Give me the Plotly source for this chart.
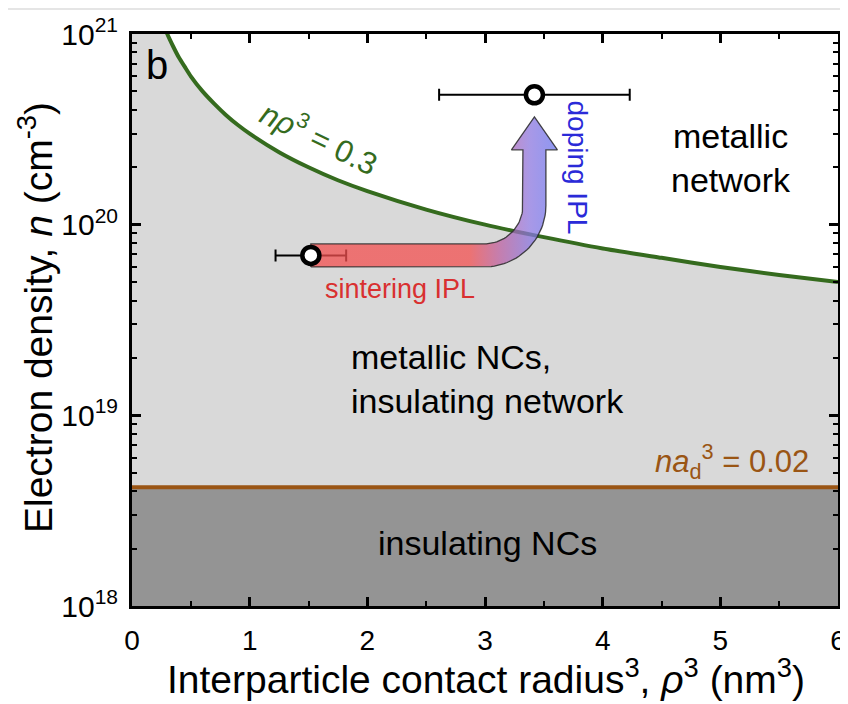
import numpy as np
import plotly.graph_objects as go

# ---------------- data ----------------
# boundary n*rho^3 = 0.3 (x: rho^3 in nm^3, n in cm^-3)
curve_x = [0.25, 0.30, 0.35, 0.40, 0.45, 0.50, 0.60, 0.70, 0.80, 0.90, 1.00, 1.25,
           1.50, 1.75, 2.00, 2.50, 3.00, 3.50, 4.00, 4.50, 5.00, 5.50, 6.00]
curve_n = [1.2e21, 1.0e21, 8.6e20, 7.5e20, 6.7e20, 6.0e20, 5.0e20, 4.3e20, 3.75e20, 3.33e20,
           3.0e20, 2.4e20, 2.0e20, 1.71e20, 1.5e20, 1.2e20, 1.0e20, 8.6e19, 7.5e19, 6.7e19,
           6.0e19, 5.45e19, 5.0e19]
# boundary n*a_d^3 = 0.02
ad_level = 4.2e18
# measured films: before (sintering IPL) and after (doping IPL)
points_x = [1.52, 3.42]
points_n = [6.9e19, 4.8e20]
points_xerr = [0.30, 0.81]

x_ticks = [0, 1, 2, 3, 4, 5, 6]
y_ticks = [1e18, 1e19, 1e20, 1e21]
y_ticktext = ["10<sup>18</sup>", "10<sup>19</sup>", "10<sup>20</sup>", "10<sup>21</sup>"]
y_minor = [float(m) * 10.0 ** e for e in (18, 19, 20) for m in range(2, 10)]

X_RANGE = [0, 6]
Y_RANGE = [18, 21]  # log10

# ---------------- layout geometry ----------------
FIG_W, FIG_H = 848, 704
OFF = 8  # page body margin of the browser
M_L, M_R, M_T, M_B = 132 - OFF, 10 + OFF, 34 - OFF, 98 + OFF
W = FIG_W - M_L - M_R
H = FIG_H - M_T - M_B
FONT = "Liberation Sans, Arial, sans-serif"

def to_px(x, n):
    return ((x - X_RANGE[0]) / (X_RANGE[1] - X_RANGE[0]) * W,
            (Y_RANGE[1] - np.log10(n)) / (Y_RANGE[1] - Y_RANGE[0]) * H)

def to_data(X, Y):
    return (float(X / W * (X_RANGE[1] - X_RANGE[0]) + X_RANGE[0]),
            float(10 ** (Y_RANGE[1] - Y / H * (Y_RANGE[1] - Y_RANGE[0]))))

GREEN = "#356b1e"
BROWN = "#9a5514"
LIGHT = "#d9d9d9"
DARK = "#949494"

fig = go.Figure()

# dark grey region (insulating NCs)
fig.add_trace(go.Scatter(
    x=[X_RANGE[0], X_RANGE[1], X_RANGE[1], X_RANGE[0]],
    y=[10.0 ** Y_RANGE[0], 10.0 ** Y_RANGE[0], ad_level, ad_level],
    fill="toself", fillcolor=DARK, mode="none", hoverinfo="skip"))

# light grey region between the two boundaries
top = 10.0 ** (Y_RANGE[1] + 0.3)
fig.add_trace(go.Scatter(
    x=[X_RANGE[0], curve_x[0]] + curve_x + [X_RANGE[1], X_RANGE[0]],
    y=[top, top] + curve_n + [ad_level, ad_level],
    fill="toself", fillcolor=LIGHT, mode="none", hoverinfo="skip"))

# boundary lines
fig.add_trace(go.Scatter(x=curve_x, y=curve_n, mode="lines",
                         line=dict(color=GREEN, width=4, shape="spline", smoothing=0.6),
                         hoverinfo="skip"))
fig.add_trace(go.Scatter(x=X_RANGE, y=[ad_level, ad_level], mode="lines",
                         line=dict(color=BROWN, width=4), hoverinfo="skip"))

# error bars (drawn beneath the arrow)
fig.add_trace(go.Scatter(
    x=points_x, y=points_n, mode="markers",
    marker=dict(size=1, color="rgba(0,0,0,0)"),
    error_x=dict(type="data", array=points_xerr, color="black", thickness=2, width=6),
    hoverinfo="skip"))

# ---------------- gradient arrow (sintering -> doping) ----------------
p1x, p1y = to_px(points_x[0], points_n[0])
p2x, p2y = to_px(points_x[1], points_n[1])
R = 50.0      # centreline bend radius (px)
hw = 11.5     # half shaft width
hh = 23.0     # half head width
base_y = p2y + 55
tip_y = p2y + 22
cx, cy = p2x - R, p1y - R
poly = []
poly.append((p1x, p1y + hw))
for a in np.linspace(np.pi / 2, 0, 30):
    poly.append((cx + (R + hw) * np.cos(a), cy + (R + hw) * np.sin(a)))
poly += [(p2x + hw, base_y), (p2x + hh, base_y), (p2x, tip_y),
         (p2x - hh, base_y), (p2x - hw, base_y)]
for a in np.linspace(0, np.pi / 2, 30):
    poly.append((cx + (R - hw) * np.cos(a), cy + (R - hw) * np.sin(a)))
poly.append((p1x, p1y - hw))
poly.append(poly[0])
ax_, ay_ = zip(*[to_data(X, Y) for X, Y in poly])
g_start = to_data(p2x - 95, 0)[0]
g_stop = to_data(p2x + hh + 2, 0)[0]
fig.add_trace(go.Scatter(
    x=list(ax_), y=list(ay_), mode="lines", fill="toself",
    line=dict(color="rgba(40,40,40,0.85)", width=1.3),
    fillgradient=dict(type="horizontal", start=g_start, stop=g_stop,
                      colorscale=[[0.0, "rgba(243,80,80,0.75)"],
                                  [0.25, "rgba(243,80,80,0.75)"],
                                  [0.5, "rgba(190,96,160,0.75)"],
                                  [0.75, "rgba(140,118,222,0.75)"],
                                  [1.0, "rgba(100,116,238,0.75)"]]),
    hoverinfo="skip"))

# data points
fig.add_trace(go.Scatter(
    x=points_x, y=points_n, mode="markers",
    marker=dict(size=17, color="white", line=dict(color="black", width=4.5)),
    hoverinfo="skip"))

# ---------------- annotations ----------------
def ann(text, x, logy, size, color="black", **kw):
    fig.add_annotation(text=text, x=x, y=logy, xref="x", yref="y", showarrow=False,
                       font=dict(family=FONT, size=size, color=color), **kw)

ann("b", 0.21, 20.84, 40)
ann("metallic<br>network", 5.09, 20.35, 34)
ann("metallic NCs,<br>insulating network", 1.84, 19.19, 34, xanchor="left", align="left")
ann("insulating NCs", 3.02, 18.33, 34)
ann("<i>n</i><i>ρ</i><sup>3</sup> = 0.3", 1.60, 20.46, 31, GREEN, textangle=26)
ann("<i>na</i><sub>d</sub><sup>3</sup> = 0.02", 5.77, 18.76, 31, BROWN, xanchor="right")
ann("sintering IPL", 2.28, 19.66, 27, "#d93030")
ann("doping IPL", 3.79, 20.30, 28, "#2a2ad8", textangle=90)

# axis titles
fig.add_annotation(text="Interparticle contact radius<sup>3</sup>, <i>ρ</i><sup>3</sup> (nm<sup>3</sup>)",
                   xref="paper", yref="paper", x=(486 - 132) / W, y=(606 - 676) / H,
                   xanchor="center", yanchor="middle", showarrow=False,
                   font=dict(family=FONT, size=39, color="black"))
fig.add_annotation(text="Electron density, <i>n</i> (cm<sup>-3</sup>)",
                   xref="paper", yref="paper", x=(35 - 132) / W, y=(606 - 318) / H,
                   xanchor="center", yanchor="middle", showarrow=False, textangle=-90,
                   font=dict(family=FONT, size=39, color="black"))

# thin grey page rule at top of screenshot
fig.add_shape(type="line", xref="paper", yref="paper",
              x0=-M_L / W, x1=(FIG_W - M_L) / W,
              y0=1 + (34 - 9) / H, y1=1 + (34 - 9) / H,
              line=dict(color="#dcdcdc", width=1.5))

axis_common = dict(showline=True, linecolor="black", linewidth=3, mirror="ticks",
                   ticks="inside", tickcolor="black", tickwidth=2.5, ticklen=9,
                   showgrid=False, zeroline=False, automargin=False)

fig.update_xaxes(range=X_RANGE, tickvals=x_ticks,
                 minor=dict(ticks="inside", dtick=0.5, ticklen=5, tickwidth=2, tickcolor="black"),
                 ticklabelstandoff=7,
                 tickfont=dict(family=FONT, size=28, color="black"),
                 **axis_common)
fig.update_yaxes(type="log", range=Y_RANGE, tickvals=y_ticks, ticktext=y_ticktext,
                 minor=dict(ticks="inside", tickvals=y_minor, ticklen=5, tickwidth=2, tickcolor="black"),
                 ticklabelstandoff=5,
                 tickfont=dict(family=FONT, size=30, color="black"),
                 **axis_common)

fig.update_layout(width=FIG_W, height=FIG_H, showlegend=False,
                  margin=dict(l=M_L, r=M_R, t=M_T, b=M_B),
                  paper_bgcolor="white", plot_bgcolor="white",
                  font=dict(family=FONT, color="black"))

fig.write_html("out.html")
